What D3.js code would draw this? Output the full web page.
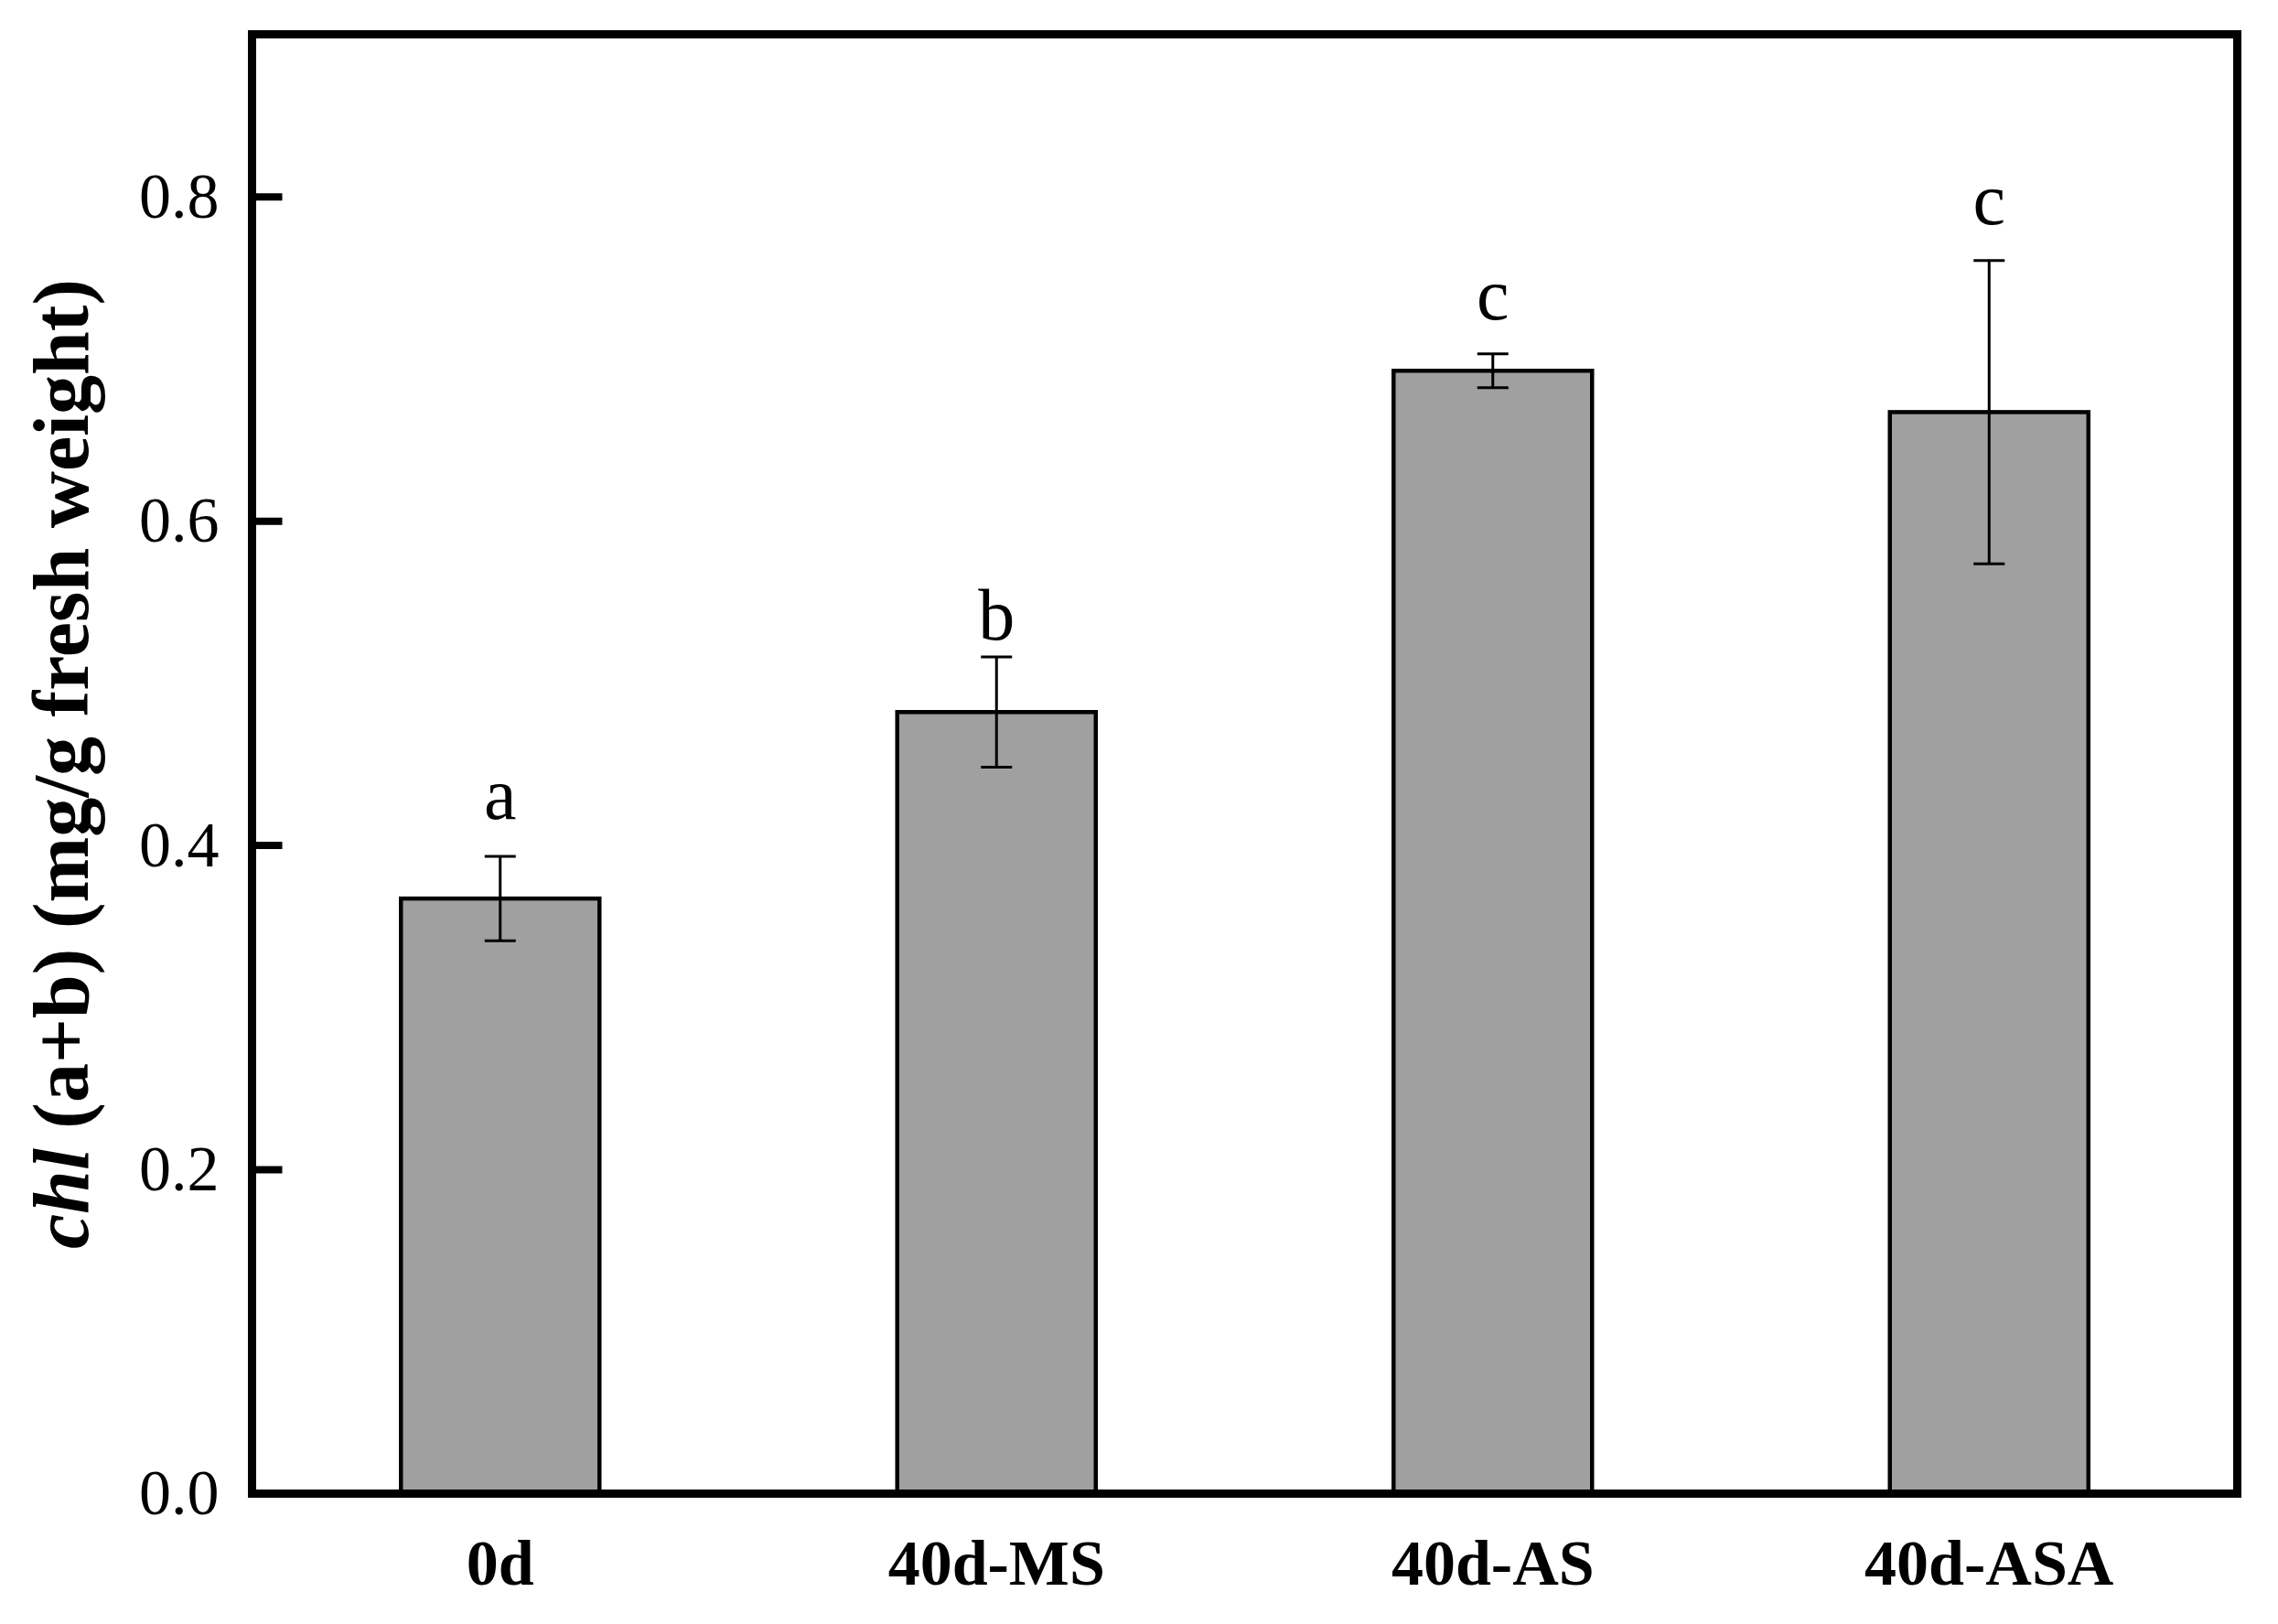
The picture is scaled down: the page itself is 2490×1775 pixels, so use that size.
<!DOCTYPE html>
<html>
<head>
<meta charset="utf-8">
<script src="https://cdn.jsdelivr.net/npm/d3@7"></script>
<style>
  html, body { margin: 0; padding: 0; background: #fff; }
  svg { display: block; }
</style>
</head>
<body>
<script>
// ---- data ----
const categories = ["0d", "40d-MS", "40d-AS", "40d-ASA"];
const values     = [0.367, 0.482, 0.6925, 0.667];
const errors     = [0.026, 0.034, 0.0105, 0.0935];
const letters    = ["a", "b", "c", "c"];
const letterY    = [0.416, 0.527, 0.724, 0.783];
const yTicks     = [0.0, 0.2, 0.4, 0.6, 0.8];
const yDomain    = [0, 0.9];

// ---- layout ----
const W = 2490, H = 1775;
const mLeft = 275.5, mRight = 2445.5, mTop = 37.5, mBottom = 1632.5;

const svg = d3.select("body").append("svg")
  .attr("width", W).attr("height", H)
  .style("font-family", "'Liberation Serif', 'Times New Roman', serif");

const x = d3.scaleBand().domain(categories).range([mLeft, mRight])
  .paddingInner(0.6).paddingOuter(0.3);
const y = d3.scaleLinear().domain(yDomain).range([mBottom, mTop]);

// bars
svg.append("g").selectAll("rect").data(categories).join("rect")
  .attr("x", d => x(d))
  .attr("y", (d, i) => y(values[i]))
  .attr("width", x.bandwidth())
  .attr("height", (d, i) => y(0) - y(values[i]))
  .attr("fill", "#a0a0a0")
  .attr("stroke", "#000")
  .attr("stroke-width", 4.5);

// error bars
const cap = 17;
const eb = svg.append("g").attr("stroke", "#000").attr("stroke-width", 3);
categories.forEach((c, i) => {
  const cx = x(c) + x.bandwidth() / 2;
  const y1 = y(values[i] + errors[i]), y2 = y(values[i] - errors[i]);
  eb.append("line").attr("x1", cx).attr("x2", cx).attr("y1", y1).attr("y2", y2);
  eb.append("line").attr("x1", cx - cap).attr("x2", cx + cap).attr("y1", y1).attr("y2", y1);
  eb.append("line").attr("x1", cx - cap).attr("x2", cx + cap).attr("y1", y2).attr("y2", y2);
});

// significance letters
svg.append("g").selectAll("text").data(categories).join("text")
  .attr("x", d => x(d) + x.bandwidth() / 2)
  .attr("y", (d, i) => y(letterY[i]))
  .attr("text-anchor", "middle")
  .attr("font-size", 80)
  .text((d, i) => letters[i]);

// y axis (inward ticks)
const yAxis = d3.axisLeft(y).tickValues(yTicks)
  .tickFormat(d3.format(".1f"))
  .tickSizeInner(-33).tickSizeOuter(0).tickPadding(36);
const gy = svg.append("g").attr("transform", `translate(${mLeft},0)`).call(yAxis);
gy.select(".domain").remove();
gy.selectAll(".tick line").attr("stroke", "#000").attr("stroke-width", 8);
gy.selectAll(".tick text").attr("font-size", 70).attr("fill", "#000")
  .style("font-family", "'Liberation Serif', serif");

// x axis labels
const xAxis = d3.axisBottom(x).tickSize(0).tickPadding(50);
const gx = svg.append("g").attr("transform", `translate(0,${mBottom})`).call(xAxis);
gx.select(".domain").remove();
gx.selectAll(".tick text").attr("font-size", 70).attr("font-weight", "bold")
  .attr("fill", "#000").style("font-family", "'Liberation Serif', serif");

// frame
svg.append("rect")
  .attr("x", mLeft).attr("y", mTop)
  .attr("width", mRight - mLeft).attr("height", mBottom - mTop)
  .attr("fill", "none").attr("stroke", "#000").attr("stroke-width", 9);

// y-axis title
const yt = svg.append("text")
  .attr("transform", `translate(96,${(mTop + mBottom) / 2}) rotate(-90)`)
  .attr("text-anchor", "middle")
  .attr("font-size", 86)
  .attr("font-weight", "bold");
yt.append("tspan").attr("font-style", "italic").text("chl");
yt.append("tspan").text(" (a+b) (mg/g fresh weight)");
</script>
</body>
</html>
